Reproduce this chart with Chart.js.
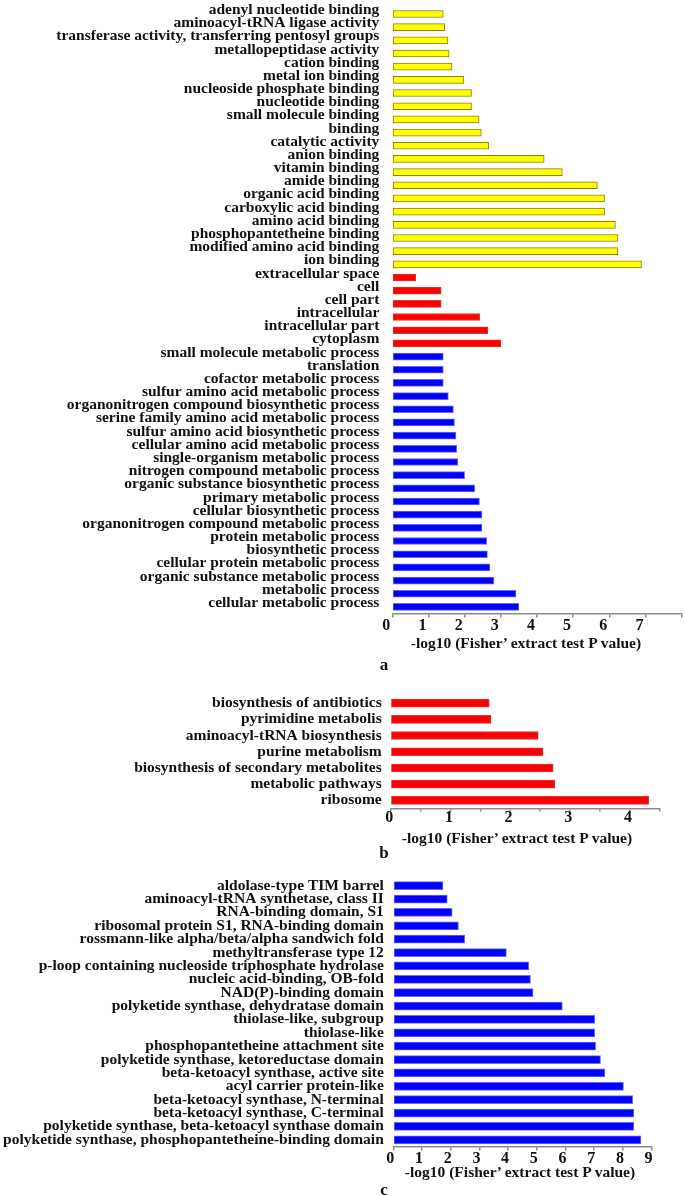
<!DOCTYPE html>
<html><head><meta charset="utf-8">
<script src="https://cdn.jsdelivr.net/npm/chart.js@4.4.1/dist/chart.umd.min.js"></script>
<style>
html,body{margin:0;padding:0;background:#fff;}
body{width:685px;height:1196px;position:relative;overflow:hidden;}
.panel{position:absolute;left:0;width:685px;}
.panel canvas{display:block;}
.letter,.xt{position:absolute;font-family:"Liberation Serif","Times New Roman",serif;font-weight:bold;color:#111;transform:translate(-50%,-50%);line-height:1;white-space:nowrap;}
.letter{font-size:17px;}
.xt{font-size:15.5px;}
</style></head><body>
<div class="panel" style="top:0px;height:636px"><canvas id="ca"></canvas></div>
<div class="xt" id="ta" style="left:526px;top:643px"></div>
<div class="letter" style="left:384px;top:664px">a</div>
<div class="panel" style="top:670px;height:158px"><canvas id="cb"></canvas></div>
<div class="xt" id="tb" style="left:517px;top:838px"></div>
<div class="letter" style="left:384px;top:852px">b</div>
<div class="panel" style="top:860px;height:308px"><canvas id="cc"></canvas></div>
<div class="xt" id="tc" style="left:520px;top:1172px"></div>
<div class="letter" style="left:384px;top:1189px">c</div>
<script>
// ---- Panel a: GO terms ----
const mfLabels = ["adenyl nucleotide binding","aminoacyl-tRNA ligase activity","transferase activity, transferring pentosyl groups","metallopeptidase activity","cation binding","metal ion binding","nucleoside phosphate binding","nucleotide binding","small molecule binding","binding","catalytic activity","anion binding","vitamin binding","amide binding","organic acid binding","carboxylic acid binding","amino acid binding","phosphopantetheine binding","modified amino acid binding","ion binding"];
const mfValues = [1.41,1.45,1.54,1.57,1.65,1.98,2.19,2.19,2.40,2.46,2.67,4.20,4.70,5.67,5.87,5.87,6.17,6.24,6.24,6.89];
const ccLabels = ["extracellular space","cell","cell part","intracellular","intracellular part","cytoplasm"];
const ccValues = [0.65,1.35,1.35,2.42,2.64,3.00];
const bpLabels = ["small molecule metabolic process","translation","cofactor metabolic process","sulfur amino acid metabolic process","organonitrogen compound biosynthetic process","serine family amino acid metabolic process","sulfur amino acid biosynthetic process","cellular amino acid metabolic process","single-organism metabolic process","nitrogen compound metabolic process","organic substance biosynthetic process","primary metabolic process","cellular biosynthetic process","organonitrogen compound metabolic process","protein metabolic process","biosynthetic process","cellular protein metabolic process","organic substance metabolic process","metabolic process","cellular metabolic process"];
const bpValues = [1.41,1.41,1.41,1.55,1.69,1.72,1.76,1.78,1.81,2.00,2.28,2.41,2.48,2.48,2.61,2.63,2.70,2.81,3.42,3.50];
const aTicks = [0,1,2,3,4,5,6,7];

// ---- Panel b: KEGG pathways ----
const keggLabels = ["biosynthesis of antibiotics","pyrimidine metabolis","aminoacyl-tRNA biosynthesis","purine metabolism","biosynthesis of secondary metabolites","metabolic pathways","ribosome"];
const keggValues = [1.65,1.68,2.47,2.55,2.72,2.75,4.32];
const bTicks = [0,1,2,3,4];

// ---- Panel c: protein domains ----
const domLabels = ["aldolase-type TIM barrel","aminoacyl-tRNA synthetase, class II","RNA-binding domain, S1","ribosomal protein S1, RNA-binding domain","rossmann-like alpha/beta/alpha sandwich fold","methyltransferase type 12","p-loop containing nucleoside triphosphate hydrolase","nucleic acid-binding, OB-fold","NAD(P)-binding domain","polyketide synthase, dehydratase domain","thiolase-like, subgroup","thiolase-like","phosphopantetheine attachment site","polyketide synthase, ketoreductase domain","beta-ketoacyl synthase, active site","acyl carrier protein-like","beta-ketoacyl synthase, N-terminal","beta-ketoacyl synthase, C-terminal","polyketide synthase, beta-ketoacyl synthase domain","polyketide synthase, phosphopantetheine-binding domain"];
const domValues = [1.73,1.88,2.05,2.27,2.49,3.94,4.72,4.78,4.87,5.89,7.02,7.02,7.05,7.22,7.37,8.02,8.34,8.38,8.38,8.63];
const cTicks = [0,1,2,3,4,5,6,7,8,9];

const xTitle = "-log10 (Fisher\u2019 extract test P value)";
const panelLetters = ["a","b","c"];
["ta","tb","tc"].forEach(id => { document.getElementById(id).textContent = xTitle; });

const FAM = "'Liberation Serif','Times New Roman',serif";
const YELLOW = {fill:"#FFFF00", edge:"#8a8200"};
const RED = {fill:"#FF0000", edge:"#d23a3a"};
const BLUE = {fill:"#0000FF", edge:"#6a6af0"};

function makeChart(id, labels, values, fills, edges, cfg) {
  return new Chart(document.getElementById(id), {
    type: 'bar',
    data: { labels: labels, datasets: [{ data: values, backgroundColor: fills, borderColor: edges, borderWidth: 1, borderSkipped: false, barThickness: cfg.thick }] },
    options: {
      indexAxis: 'y', responsive: true, maintainAspectRatio: false, animation: false,
      layout: { padding: { top: cfg.padTop, right: cfg.padRight, left: 0, bottom: 0 } },
      plugins: { legend: { display: false }, tooltip: { enabled: false } },
      scales: {
        x: {
          type: 'linear', min: 0, max: cfg.max,
          grid: { display: true, drawOnChartArea: false, drawTicks: true, tickLength: cfg.tickLen, color: '#8a8a8a', lineWidth: 1.5 },
          border: { display: true, color: '#8a8a8a', width: 1.5 },
          ticks: { stepSize: cfg.step, autoSkip: false, maxRotation: 0, color: '#111', padding: cfg.tickPad, labelOffset: cfg.xOff,
                   font: { family: FAM, size: 16, weight: 'bold', lineHeight: 1 },
                   callback: (v) => (cfg.tickVals.includes(v) ? String(v) : '') },
          title: { display: false },
          afterFit: (s) => { s.height = cfg.xh; s.paddingLeft = 0; s.paddingRight = 0; }
        },
        y: {
          grid: { display: false, drawTicks: false },
          border: { display: false },
          ticks: { autoSkip: false, color: '#111', padding: cfg.labelPad, labelOffset: cfg.yOff,
                   font: { family: FAM, size: 15.5, weight: 'bold', lineHeight: 1 } },
          afterFit: (s) => { s.width = cfg.yw; s.paddingTop = 0; s.paddingBottom = 0; }
        }
      }
    }
  });
}

// panel a
const aLabels = mfLabels.concat(ccLabels, bpLabels);
const aValues = mfValues.concat(ccValues, bpValues);
const aGroups = mfLabels.map(() => YELLOW).concat(ccLabels.map(() => RED), bpLabels.map(() => BLUE));
makeChart('ca', aLabels, aValues, aGroups.map(g => g.fill), aGroups.map(g => g.edge),
  { thick: 7, padTop: 7.4, padRight: 3.4, max: 8, step: 1, tickVals: aTicks, tickLen: 4, tickPad: 0, xOff: -6, xh: 22.5, yw: 392.3, labelPad: 13, yOff: -4 });

// panel b
makeChart('cb', keggLabels, keggValues, keggLabels.map(() => RED.fill), keggLabels.map(() => RED.edge),
  { thick: 8, padTop: 25, padRight: 25.6, max: 4.5, step: 0.5, tickVals: bTicks, tickLen: 3, tickPad: -2, xOff: -1.5, xh: 19.5, yw: 390.7, labelPad: 9, yOff: 0 });

// panel c
makeChart('cc', domLabels, domValues, domLabels.map(() => BLUE.fill), domLabels.map(() => BLUE.edge),
  { thick: 8, padTop: 19, padRight: 33.4, max: 9, step: 1, tickVals: cTicks, tickLen: 4, tickPad: 0, xOff: -3, xh: 21.5, yw: 393.3, labelPad: 9.5, yOff: 0 });
</script>
</body></html>
